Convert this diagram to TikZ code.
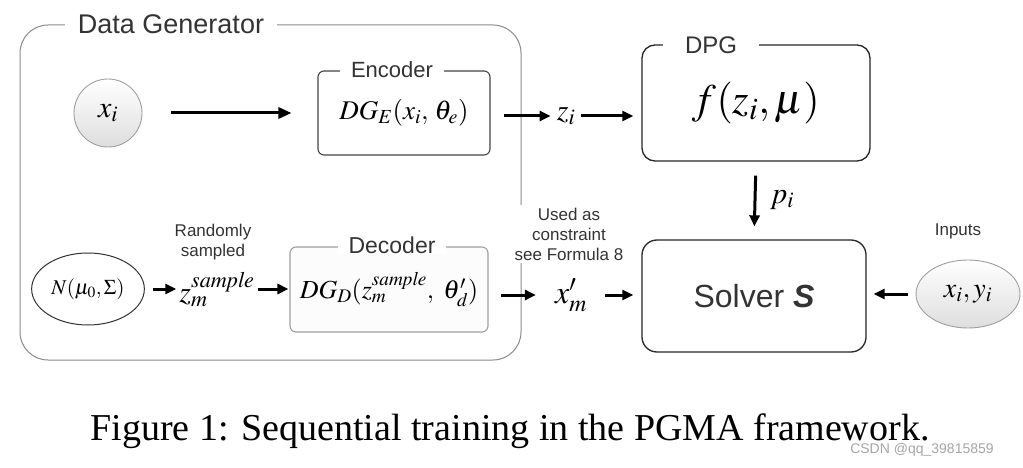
\documentclass[tikz,border=0pt]{standalone}
\usepackage{mathptmx}
\usepackage[no-math]{fontspec}
\setmainfont{Liberation Serif}
\setsansfont{Liberation Sans}
\usetikzlibrary{arrows.meta,shapes.geometric}
\definecolor{txtgray}{HTML}{333333}
\definecolor{linegray}{HTML}{8A8A8A}
\definecolor{boxgray}{HTML}{444444}
\definecolor{decfill}{HTML}{FCFCFC}
\tikzset{
  lbl/.style={font=\sffamily\fontsize{17}{20}\selectfont, text=txtgray, align=center},
  ttl/.style={fill=white, text=txtgray, inner ysep=1pt},
  arr/.style={line width=3pt, -{Triangle[length=11pt,width=10pt]}},
  mth/.style={inner sep=0pt},
  smallbox/.style={draw=boxgray, line width=1.1pt, rounded corners=6pt, inner sep=0pt},
  bigbox/.style={draw=black!85, line width=1.3pt, rounded corners=14pt, inner sep=0pt},
  ball/.style={draw=gray!75, line width=0.9pt, top color=white, bottom color=black!13},
}
\begin{document}
\begin{tikzpicture}[x=1pt,y=-1pt]
\useasboundingbox[fill=white] (0,0) rectangle (1023,468);
% outer Data Generator box
\node[draw=linegray, line width=1pt, rounded corners=28pt, minimum width=501, minimum height=335] (dg) at (270.5,192.5) {};
\node[ttl, font=\sffamily\fontsize{27}{32}\selectfont, inner xsep=13pt] (dgt) at (171,24) {Data Generator};
% x_i
\node[ball, circle, minimum size=68, font=\fontsize{30}{36}\selectfont] (xi) at (108,113) {$x_i$};
% Encoder
\node[smallbox, minimum width=172, minimum height=84, font=\fontsize{27}{32}\selectfont] (enc) at (404,113) {$DG_E(x_i,\,\theta_e)$};
\node[ttl, font=\sffamily\fontsize{22}{26}\selectfont, inner xsep=11pt] (enct) at (392,70) {Encoder};
% z_i
\node[mth, font=\fontsize{30}{36}\selectfont] (zi) at (566,116) {$z_i$};
% DPG
\node[bigbox, rounded corners=13pt, minimum width=228, minimum height=116, font=\fontsize{42}{48}\selectfont] (dpg) at (756,103) {$f(z_i,\mu)$};
\node[ttl, font=\sffamily\fontsize{24}{28}\selectfont, inner xsep=22pt] (dpgt) at (711,45) {DPG};
% Solver
\node[bigbox, rounded corners=15pt, minimum width=224, minimum height=112, font=\sffamily\fontsize{32}{38}\selectfont, text=txtgray] (sol) at (754,296) {Solver \textbf{\textit{S}}};
\node[mth, font=\fontsize{30}{36}\selectfont, anchor=west] (pi) at (770,200) {$p_i$};
% inputs
\node[ball, ellipse, minimum width=104, minimum height=68, font=\fontsize{28}{34}\selectfont] (xy) at (968,294) {$x_i,y_i$};
\node[lbl] (inp) at (958,231) {Inputs};
% decoder row
\node[draw=black!80, line width=1pt, ellipse, minimum width=104, minimum height=72, font=\fontsize{21}{26}\selectfont] (nn) at (88,289) {$N(\mu_0,\Sigma)$};
\node[mth, font=\fontsize{30}{36}\selectfont] (zs) at (217,290) {$z_m^{\mathit{sample}}$};
\node[lbl] (rs) at (213,242) {Randomly\\sampled};
\node[smallbox, draw=gray!75, fill=decfill, minimum width=198, minimum height=85, font=\fontsize{26}{31}\selectfont] (dec) at (389,289.5) {$DG_D(z_m^{\mathit{sample}},\ \theta'_d)$};
\node[ttl, font=\sffamily\fontsize{23}{27}\selectfont, inner xsep=11pt] (dect) at (392,245) {Decoder};
\node[mth, font=\fontsize{32}{38}\selectfont] (xm) at (571,295) {$x'_m$};
\node[lbl, fill=white, inner sep=3pt] (uac) at (569,234) {Used as\\constraint\\see Formula 8};
% arrows
\draw[arr, -{Triangle[length=13pt,width=11pt]}, shorten <=29pt, shorten >=26pt] (xi.east) -- (enc.west);
\draw[arr, shorten <=13pt, shorten >=6pt] (enc.east |- zi.west) -- (zi.west);
\draw[arr, shorten <=6pt, shorten >=8pt] (zi.east) -- (zi.east -| dpg.west);
\draw[arr, shorten <=14pt, shorten >=13pt] (dpg.south) -- (sol.north);
\draw[arr, shorten <=8pt, shorten >=7pt] (xy.west) -- (xy.west -| sol.east);
\draw[arr, shorten <=18pt, shorten >=8pt] (xm.east) -- (xm.east -| sol.west);
\draw[arr, shorten <=12pt, shorten >=19pt] (dec.east |- xm.west) -- (xm.west);
\draw[arr, shorten <=8pt, shorten >=3pt] (nn.east) -- (nn.east -| zs.west);
\draw[arr, shorten <=3pt, shorten >=1pt] (zs.east |- nn.east) -- (nn.east -| dec.west);
% caption
\node[font=\fontsize{38}{44}\selectfont, inner sep=0pt] (cap) at (510,431) {Figure 1: Sequential training in the PGMA framework.};
\node[font=\sffamily\fontsize{14}{16}\selectfont, text=gray!70, inner sep=0pt] (wm) at (922,450) {CSDN @qq\_39815859};
\end{tikzpicture}
\end{document}
